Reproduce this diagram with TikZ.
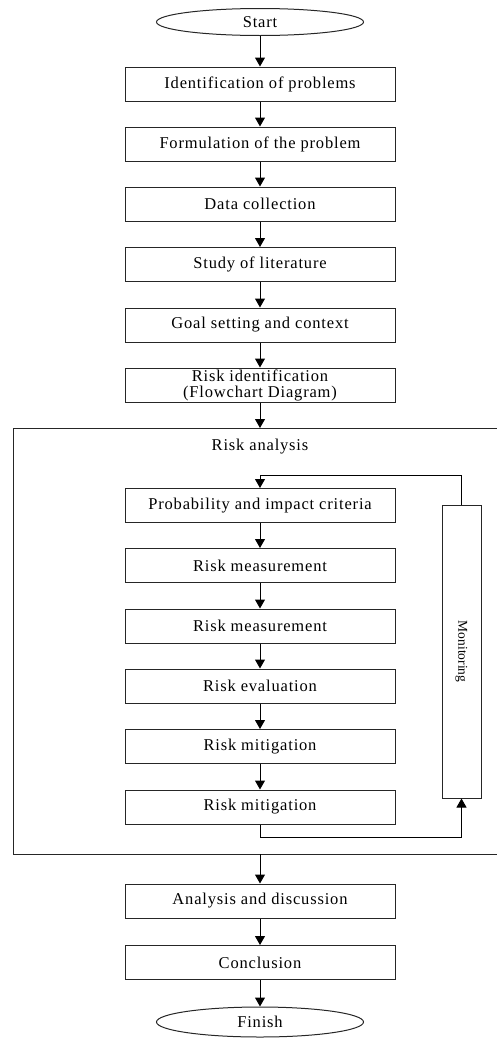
\documentclass[tikz,border=0pt]{standalone}
\usepackage{fontspec}
\setmainfont{Liberation Serif}[LetterSpace=5]
\newfontfamily\plainserif{Liberation Serif}
\usetikzlibrary{arrows.meta,shapes.geometric}
\begin{document}
\begin{tikzpicture}[x=1pt,y=-1pt,
  every node/.style={font=\fontsize{16.5}{18}\selectfont, inner sep=0pt},
  stepbox/.style={draw=black!85, line width=1pt, minimum width=270pt, minimum height=34pt, align=center},
  term/.style={draw=black!85, line width=1pt, ellipse, minimum width=207pt, minimum height=27pt},
  arr/.style={line width=1pt, -{Triangle[width=10pt,length=9pt]}},
  ln/.style={line width=1pt}]
\useasboundingbox (0,0) rectangle (496,1039);
\node[term] (start) at (260,22) {Start};
\node[stepbox] (ident) at (260,84) {Identification of problems};
\node[stepbox] (form) at (260,144) {Formulation of the problem};
\node[stepbox] (data) at (260,204) {Data collection};
\node[stepbox] (study) at (260,264.5) {Study of literature};
\node[stepbox] (goal) at (260,325) {Goal setting and context};
\node[stepbox, font=\fontsize{16.5}{16}\selectfont] (riskid) at (260,385) {Risk identification\\(Flowchart Diagram)};
% frame
\draw[ln, draw=black!85] (500,428) -- (13,428) -- (13,854) -- (500,854);
\coordinate (ftop) at (260,428);
\coordinate (fbot) at (260,854);
\node (ralabel) at (260,447) {Risk analysis};
\node[stepbox] (prob) at (260,505.5) {Probability and impact criteria};
\node[stepbox] (meas1) at (260,565.5) {Risk measurement};
\node[stepbox] (meas2) at (260,626) {Risk measurement};
\node[stepbox] (eval) at (260,686) {Risk evaluation};
\node[stepbox] (mit1) at (260,746.5) {Risk mitigation};
\node[stepbox] (mit2) at (260,807) {Risk mitigation};
\node[draw=black!85, line width=1pt, minimum width=39pt, minimum height=293pt] (mon) at (461.5,651.5) {};
\node[rotate=-90, font=\plainserif\fontsize{13.5}{14}\selectfont] (montext) at (mon.center) {Monitoring};
\node[stepbox] (anal) at (260,901) {Analysis and discussion};
\node[stepbox] (concl) at (260,962.5) {Conclusion};
\node[term, minimum height=30pt] (finish) at (260,1022) {Finish};
% arrows
\draw[arr] (start) -- (ident);
\draw[arr] (ident) -- (form);
\draw[arr] (form) -- (data);
\draw[arr] (data) -- (study);
\draw[arr] (study) -- (goal);
\draw[arr] (goal) -- (riskid);
\draw[arr] (riskid) -- (ftop);
\draw[arr] (prob) -- (meas1);
\draw[arr] (meas1) -- (meas2);
\draw[arr] (meas2) -- (eval);
\draw[arr] (eval) -- (mit1);
\draw[arr] (mit1) -- (mit2);
\draw[arr] (mon.north) -- ++(0,-29) -| (prob.north);
\draw[arr] (mit2.south) -- ++(0,13) -| (mon.south);
\draw[arr] (fbot) -- (anal);
\draw[arr] (anal) -- (concl);
\draw[arr] (concl) -- (finish);
\end{tikzpicture}
\end{document}
